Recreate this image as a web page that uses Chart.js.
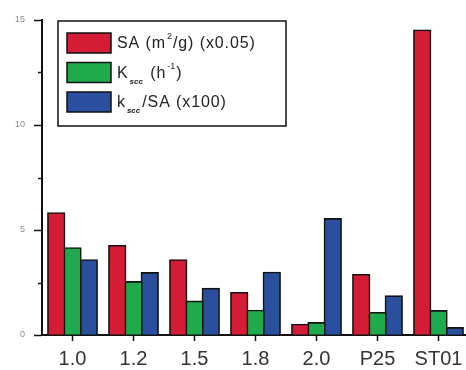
<!DOCTYPE html>
<html>
<head>
<meta charset="utf-8">
<script src="https://cdn.jsdelivr.net/npm/chart.js@4"></script>
<style>
  html, body { margin: 0; padding: 0; background: #fff; overflow: hidden; }
  #wrap { width: 470px; height: 370px; }
</style>
</head>
<body>
<div id="wrap"><canvas id="chart" width="470" height="370"></canvas></div>
<script>
// === data ===
const categories = ["1.0", "1.2", "1.5", "1.8", "2.0", "P25", "ST01"];
const saValues = [5.8, 4.24, 3.56, 2.0, 0.49, 2.86, 14.5];
const kValues = [4.13, 2.52, 1.59, 1.16, 0.57, 1.05, 1.14];
const ratioValues = [3.56, 2.95, 2.2, 2.97, 5.52, 1.84, 0.33];
const minorTicks = [2.5, 7.5, 12.5];

// legend labels with super/subscript parts
const legendParts = [
  [{ t: "SA (m" }, { t: "2", sup: true }, { t: "/g) (x0.05)" }],
  [{ t: "K" }, { t: "scc", sub: true }, { t: " (h" }, { t: "-1", sup: true }, { t: ")" }],
  [{ t: "k" }, { t: "scc", sub: true }, { t: "/SA (x100)" }]
];

const colors = ["#d41c34", "#1fab4c", "#2a4f9f"];
const FONT = "'Liberation Sans', Arial, sans-serif";

// minor ticks on y axis
const minorTickPlugin = {
  id: "minorTicks",
  afterDraw(chart) {
    const y = chart.scales.y, ctx = chart.ctx;
    ctx.save();
    ctx.strokeStyle = "#111";
    ctx.lineWidth = 1.5;
    minorTicks.forEach(v => {
      const py = Math.round(y.getPixelForValue(v)) + 0.5;
      ctx.beginPath();
      ctx.moveTo(y.right - 4, py);
      ctx.lineTo(y.right, py);
      ctx.stroke();
    });
    ctx.restore();
  }
};

// boxed legend
const boxLegendPlugin = {
  id: "boxLegend",
  afterDraw(chart) {
    const ctx = chart.ctx;
    ctx.save();
    ctx.strokeStyle = "#111";
    ctx.lineWidth = 1.5;
    ctx.strokeRect(58, 21, 228, 105);
    chart.data.datasets.forEach((ds, i) => {
      const top = 33 + i * 29.5;
      ctx.fillStyle = ds.backgroundColor;
      ctx.fillRect(67, top, 44, 20);
      ctx.strokeRect(67, top, 44, 20);
      let x = 117;
      const base = top + 10 + 5;
      legendParts[i].forEach(p => {
        let size = 16, dy = 0, style = "";
        if (p.sup) { size = 9; dy = -9; }
        if (p.sub) { size = 8; dy = 6; style = "italic bold "; }
        ctx.font = style + size + "px " + FONT;
        ctx.letterSpacing = p.sup || p.sub ? "0px" : "0.9px";
        ctx.fillStyle = "#222";
        ctx.textBaseline = "alphabetic";
        ctx.fillText(p.t, x, base + dy);
        x += ctx.measureText(p.t).width + (p.sub ? 2 : 1);
      });
    });
    ctx.restore();
  }
};

const mkSet = (label, data, c) => ({
  label, data,
  backgroundColor: c,
  borderColor: "#111",
  borderWidth: 1.6,
  inflateAmount: 1,
  categoryPercentage: 0.8,
  barPercentage: 1.0
});

new Chart(document.getElementById("chart"), {
  type: "bar",
  data: {
    labels: categories,
    datasets: [
      mkSet("SA", saValues, colors[0]),
      mkSet("Kscc", kValues, colors[1]),
      mkSet("kscc/SA", ratioValues, colors[2])
    ]
  },
  options: {
    responsive: false,
    animation: false,
    layout: { padding: { top: 20, right: 1, bottom: 0, left: 0 } },
    plugins: { legend: { display: false }, tooltip: { enabled: false } },
    scales: {
      x: {
        afterFit(scale) { scale.height = 35; },
        grid: { display: true, drawOnChartArea: false, offset: false, tickLength: 6, tickColor: "#111", tickWidth: 1.5 },
        border: { display: true, color: "#111", width: 2 },
        ticks: { color: "#333", padding: 7, font: { family: FONT, size: 20, lineHeight: 1.1 } }
      },
      y: {
        min: 0, max: 15,
        afterFit(scale) { scale.width = 42; },
        grid: { display: true, drawOnChartArea: false, tickLength: 8, tickColor: "#111", tickWidth: 1.5 },
        border: { display: true, color: "#111", width: 2 },
        ticks: { stepSize: 5, color: "#888", padding: 9, font: { family: FONT, size: 9 } }
      }
    }
  },
  plugins: [minorTickPlugin, boxLegendPlugin]
});
</script>
</body>
</html>
